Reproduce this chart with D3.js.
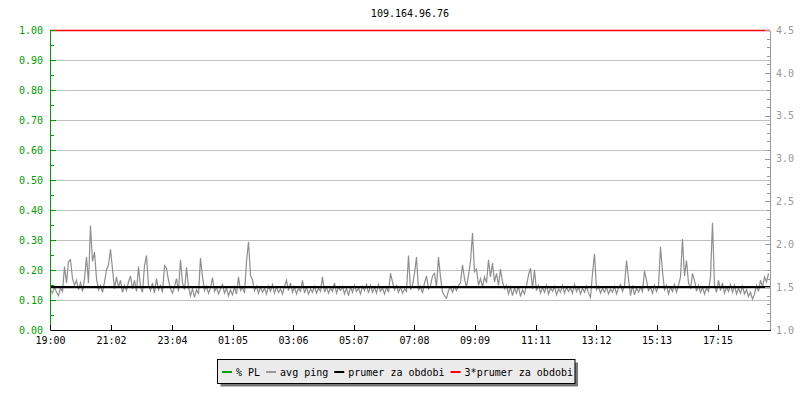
<!DOCTYPE html>
<html><head><meta charset="utf-8">
<script src="https://cdn.jsdelivr.net/npm/d3@7"></script>
<style>
body{margin:0;background:#fff}
svg{display:block}
text{font-family:"DejaVu Sans Mono",monospace;font-size:10px}
</style></head>
<body><svg id="c" width="800" height="400"></svg>
<script>
const title = "109.164.96.76";
const timeLabels = ["19:00","21:02","23:04","01:05","03:06","05:07","07:08","09:09","11:11","13:12","15:13","17:15"];
const plTicks = [0,0.1,0.2,0.3,0.4,0.5,0.6,0.7,0.8,0.9,1.0];
const pingTicks = [1.0,1.5,2.0,2.5,3.0,3.5,4.0,4.5];
const legendLabels = ["% PL","avg ping","prumer za obdobi","3*prumer za obdobi"];
const legendColors = ["#00a000","#999999","#000000","#ff0000"];
const prumer = 1.5;
const startTime = "19:00";
const stepMinutes = 4;
const periodMinutes = 1440;
const pingValues = [
1.47,1.43,1.50,1.44,1.40,1.49,1.45,1.74,1.55,1.80,1.82,1.60,1.52,1.58,1.47,1.55,1.45,1.60,1.85,1.55,
2.22,1.80,1.91,1.60,1.47,1.52,1.44,1.56,1.70,1.76,1.94,1.71,1.48,1.62,1.50,1.58,1.44,1.52,1.46,1.56,
1.63,1.48,1.58,1.45,1.74,1.50,1.44,1.75,1.87,1.52,1.46,1.55,1.43,1.60,1.47,1.52,1.44,1.75,1.72,1.58,
1.48,1.43,1.51,1.60,1.45,1.82,1.55,1.47,1.73,1.50,1.40,1.48,1.38,1.47,1.42,1.84,1.62,1.46,1.51,1.43,
1.49,1.61,1.45,1.50,1.42,1.48,1.53,1.43,1.49,1.40,1.47,1.41,1.50,1.42,1.62,1.46,1.50,1.43,1.80,2.03,
1.64,1.58,1.46,1.51,1.43,1.50,1.44,1.49,1.42,1.51,1.45,1.53,1.43,1.50,1.44,1.48,1.42,1.51,1.58,1.46,
1.55,1.44,1.50,1.42,1.49,1.45,1.58,1.43,1.50,1.42,1.48,1.44,1.51,1.43,1.49,1.45,1.62,1.44,1.50,1.43,
1.49,1.45,1.55,1.43,1.50,1.46,1.51,1.42,1.49,1.40,1.50,1.44,1.52,1.45,1.49,1.42,1.51,1.46,1.53,1.43,
1.52,1.44,1.50,1.43,1.53,1.45,1.49,1.42,1.50,1.44,1.66,1.56,1.47,1.52,1.44,1.50,1.43,1.48,1.45,1.87,
1.47,1.52,1.66,1.85,1.46,1.51,1.43,1.55,1.63,1.48,1.52,1.63,1.66,1.50,1.85,1.62,1.44,1.40,1.37,1.46,
1.50,1.44,1.51,1.46,1.52,1.55,1.76,1.60,1.50,1.64,1.80,2.13,1.68,1.71,1.52,1.60,1.50,1.62,1.55,1.82,
1.62,1.78,1.56,1.66,1.52,1.71,1.56,1.48,1.52,1.42,1.50,1.40,1.49,1.43,1.51,1.39,1.47,1.42,1.52,1.64,
1.72,1.48,1.70,1.46,1.52,1.43,1.50,1.44,1.52,1.42,1.49,1.45,1.51,1.41,1.48,1.44,1.52,1.43,1.50,1.45,
1.49,1.43,1.53,1.45,1.50,1.42,1.49,1.44,1.51,1.43,1.38,1.66,1.89,1.47,1.51,1.43,1.49,1.44,1.50,1.42,
1.48,1.44,1.51,1.42,1.49,1.53,1.45,1.52,1.81,1.60,1.40,1.52,1.41,1.49,1.44,1.50,1.45,1.69,1.58,1.46,
1.50,1.43,1.52,1.45,1.51,1.97,1.68,1.47,1.52,1.42,1.50,1.45,1.53,1.44,1.52,1.62,2.06,1.63,1.81,1.55,
1.48,1.66,1.58,1.45,1.52,1.44,1.50,1.42,1.49,1.45,1.62,2.25,1.52,1.44,1.58,1.46,1.55,1.43,1.50,1.45,
1.53,1.44,1.52,1.42,1.49,1.43,1.51,1.42,1.47,1.39,1.44,1.36,1.42,1.52,1.45,1.58,1.50,1.62,1.56,1.66
];

const svg = d3.select("#c");
const L = 50, R = 770, T = 30, B = 330;

function parseHM(s) {
  const [h, m] = s.split(":").map(Number);
  const [h0] = startTime.split(":").map(Number);
  return new Date(2000, 0, h < h0 ? 2 : 1, h, m);
}
const t0 = parseHM(startTime);
const t1 = new Date(t0.getTime() + periodMinutes * 60000);

const x = d3.scaleTime().domain([t0, t1]).range([L, R]);
const yL = d3.scaleLinear().domain([0, 1]).range([B, T]);
const yR = d3.scaleLinear().domain([pingTicks[0], pingTicks[pingTicks.length-1]]).range([B, T]);

// gridlines
svg.append("g").selectAll("line").data(plTicks.filter(v => v > 0 && v < 1)).join("line")
  .attr("x1", L).attr("x2", R)
  .attr("y1", d => Math.round(yL(d)) + 0.5).attr("y2", d => Math.round(yL(d)) + 0.5)
  .attr("stroke", "#c0c0c0").attr("stroke-width", 1);

// ping series
const line = d3.line()
  .x((d, i) => x(new Date(t0.getTime() + i * stepMinutes * 60000)) + 0.5)
  .y(d => yR(d));
svg.append("path").datum(pingValues)
  .attr("d", line).attr("fill", "none")
  .attr("stroke", "#8f8f8f").attr("stroke-width", 1.2)
  .attr("stroke-linejoin", "miter");

// prumer line
svg.append("line").attr("x1", L).attr("x2", R)
  .attr("y1", yR(prumer)).attr("y2", yR(prumer))
  .attr("stroke", legendColors[2]).attr("stroke-width", 2.2);
// 3*prumer line
svg.append("line").attr("x1", L).attr("x2", R)
  .attr("y1", yR(3 * prumer) + 0.5).attr("y2", yR(3 * prumer) + 0.5)
  .attr("stroke", legendColors[3]).attr("stroke-width", 1.3);

function styleAxis(g, color) {
  g.attr("color", color);
  g.selectAll("line").attr("shape-rendering", "crispEdges");
  g.select(".domain").attr("shape-rendering", "crispEdges");
}

// left axis
const gLm = svg.append("g").attr("transform", `translate(${L},0)`)
  .call(d3.axisLeft(yL).tickValues(d3.range(0, 1.0001, 0.05)).tickSize(-4).tickSizeOuter(0).tickFormat(""));
styleAxis(gLm, legendColors[0]);
const gL = svg.append("g").attr("transform", `translate(${L},0)`)
  .call(d3.axisLeft(yL).tickValues(plTicks).tickSize(-6).tickSizeOuter(0).tickPadding(7).tickFormat(d3.format(".2f")));
styleAxis(gL, legendColors[0]);

// right axis
const gRm = svg.append("g").attr("transform", `translate(${R},0)`)
  .call(d3.axisRight(yR).tickValues(d3.range(1, 4.5001, 0.1)).tickSize(-3).tickSizeOuter(0).tickFormat(""));
styleAxis(gRm, "#999999");
const gR = svg.append("g").attr("transform", `translate(${R},0)`)
  .call(d3.axisRight(yR).tickValues(pingTicks).tickSize(-5).tickSizeOuter(0).tickPadding(6).tickFormat(d3.format(".1f")));
styleAxis(gR, "#999999");

// bottom axis
const gB = svg.append("g").attr("transform", `translate(0,${B})`)
  .call(d3.axisBottom(x).tickValues(timeLabels.map(s => parseHM(s))).tickSize(-5).tickSizeOuter(0).tickPadding(7)
    .tickFormat((d, i) => timeLabels[i]));
styleAxis(gB, "#000000");

// title
svg.append("text").attr("x", (L + R) / 2).attr("y", 17).attr("text-anchor", "middle")
  .attr("fill", "#000").text(title);

// legend
const lg = svg.append("g");
const shadow = lg.append("rect").attr("fill", "#777");
const box = lg.append("rect").attr("fill", "#ebebeb").attr("stroke", "#000").attr("stroke-width", 1);
let cx = 222;
const ly = 372;
legendLabels.forEach((lab, i) => {
  lg.append("line").attr("x1", cx).attr("x2", cx + 10).attr("y1", ly).attr("y2", ly)
    .attr("stroke", legendColors[i]).attr("stroke-width", 2);
  const t = lg.append("text").attr("x", cx + 14).attr("y", ly + 4).attr("fill", "#000").text(lab);
  cx = cx + 14 + t.node().getComputedTextLength() + 6;
});
const bx = 217.5, by = 359.5, bw = cx - 4 - bx, bh = 24;
box.attr("x", bx).attr("y", by).attr("width", bw).attr("height", bh);
shadow.attr("x", bx + 3).attr("y", by + 3).attr("width", bw).attr("height", bh);
</script></body></html>
